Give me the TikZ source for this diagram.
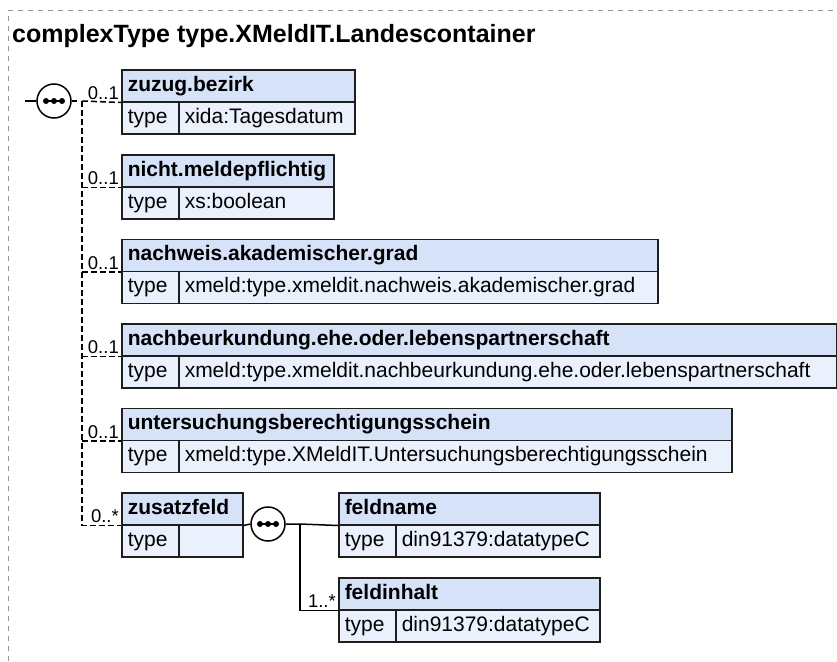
\documentclass[tikz,border=0pt]{standalone}
\usepackage{fontspec}
\setmainfont{Liberation Sans}
\definecolor{hdrfill}{RGB}{213,226,248}
\definecolor{bodyfill}{RGB}{234,241,252}
\definecolor{boxline}{RGB}{30,30,30}
\definecolor{bordergray}{RGB}{150,150,150}
\tikzset{
  hdr/.style={draw=boxline, line width=1.5pt, fill=hdrfill, anchor=north west,
    minimum height=32pt, inner ysep=0pt, inner xsep=6pt, align=left,
    text height=15pt, text depth=4pt,
    font=\fontsize{21}{25}\selectfont\bfseries},
  cell/.style={draw=boxline, line width=1.5pt, fill=bodyfill, anchor=north west,
    minimum height=32pt, inner ysep=0pt, inner xsep=6pt, align=left,
    text height=15pt, text depth=4pt,
    font=\fontsize{21}{25}\selectfont},
  mult/.style={anchor=base east, inner sep=0pt, font=\fontsize{18.5}{20}\selectfont},
  seqc/.style={circle, draw=black, line width=1.5pt, fill=white, minimum size=34pt, inner sep=0pt},
  conn/.style={draw=black, line width=1.5pt},
  dconn/.style={draw=black, line width=1.5pt, dash pattern=on 6pt off 3pt},
  frame/.style={draw=bordergray, line width=1pt, dash pattern=on 5pt off 5pt},
}
\newcommand{\elembox}[6]{%
  % #1 name, #2 top y, #3 left x, #4 right x, #5 header text, #6 type text
  \pgfmathsetlengthmacro{\ebW}{(#4-#3)*1pt}%
  \pgfmathsetlengthmacro{\ebTW}{(#4-#3-12)*1pt}%
  \pgfmathsetlengthmacro{\ebV}{(#4-#3-57)*1pt}%
  \pgfmathsetlengthmacro{\ebVT}{(#4-#3-69)*1pt}%
  \node[hdr, minimum width=\ebW, text width=\ebTW] (#1) at (#3,-#2) {#5};
  \node[cell, minimum width=57pt, text width=45pt] (#1t) at (#3,-#2-32) {type};
  \node[cell, minimum width=\ebV, text width=\ebVT] (#1v) at (#3+57,-#2-32) {#6};
}
\newcommand{\seqdots}[1]{%
  \draw[line width=1.5pt] ([xshift=-9pt]#1.center) -- ([xshift=9pt]#1.center);
  \fill ([xshift=-8pt]#1.center) circle (3pt);
  \fill (#1.center) circle (3pt);
  \fill ([xshift=8pt]#1.center) circle (3pt);
}
\begin{document}
\begin{tikzpicture}[x=1pt,y=1pt]
\useasboundingbox (0,0) rectangle (837,-661);
\draw[frame] (8,-661) -- (8,-11) -- (837,-11);
\node[anchor=base west, inner sep=0pt, font=\fontsize{25}{30}\selectfont\bfseries] (title) at (12,-42) {complexType type.XMeldIT.Landescontainer};

% main sequence
\node[seqc] (s1) at (54,-101) {};
\seqdots{s1}
\coordinate (l1) at (25,-101);
\coordinate (r1) at (77,-101);
\draw[conn] (l1) -- (s1.west);
\draw[conn] (s1.east) -- (r1);
\coordinate (j) at (82,-101);

\elembox{a}{69}{121}{354}{zuzug.bezirk}{xida:Tagesdatum}
\elembox{b}{154}{121}{333}{nicht.meldepflichtig}{xs:boolean}
\elembox{c}{238.5}{121}{657}{nachweis.akademischer.grad}{xmeld:type.xmeldit.nachweis.akademischer.grad}
\elembox{d}{323}{121}{836}{nachbeurkundung.ehe.oder.lebenspartnerschaft}{xmeld:type.xmeldit.nachbeurkundung.ehe.oder.lebenspartnerschaft}
\elembox{e}{407.5}{121}{731}{untersuchungsberechtigungsschein}{xmeld:type.XMeldIT.Untersuchungsberechtigungsschein}
\elembox{f}{492}{121}{242}{zusatzfeld}{}

\draw[dconn] (j) -- (a.south west);
\draw[dconn] (j) -- (j |- f.south west) -- (f.south west);
\draw[dconn] (j |- b.south west) -- (b.south west);
\draw[dconn] (j |- c.south west) -- (c.south west);
\draw[dconn] (j |- d.south west) -- (d.south west);
\draw[dconn] (j |- e.south west) -- (e.south west);

\node[mult] (ma) at ([xshift=-2pt,yshift=3pt]a.south west) {0..1};
\node[mult] (mb) at ([xshift=-2pt,yshift=3pt]b.south west) {0..1};
\node[mult] (mc) at ([xshift=-2pt,yshift=3pt]c.south west) {0..1};
\node[mult] (md) at ([xshift=-2pt,yshift=3pt]d.south west) {0..1};
\node[mult] (me) at ([xshift=-2pt,yshift=3pt]e.south west) {0..1};
\node[mult] (mf) at ([xshift=-2pt,yshift=3pt]f.south west) {0..*};

% inner sequence
\node[seqc] (s2) at (268,-524) {};
\seqdots{s2}
\elembox{g}{492}{338}{599}{feldname}{din91379:datatypeC}
\elembox{h}{577}{338}{599}{feldinhalt}{din91379:datatypeC}
\coordinate (k) at (300,-524);
\draw[conn] (f.south east) -- (s2.west);
\draw[conn] (s2.east) -- (k) -- (g.south west);
\draw[conn] (k) |- (h.south west);
\node[mult] (mh) at ([xshift=-2pt,yshift=3pt]h.south west) {1..*};
\end{tikzpicture}
\end{document}
